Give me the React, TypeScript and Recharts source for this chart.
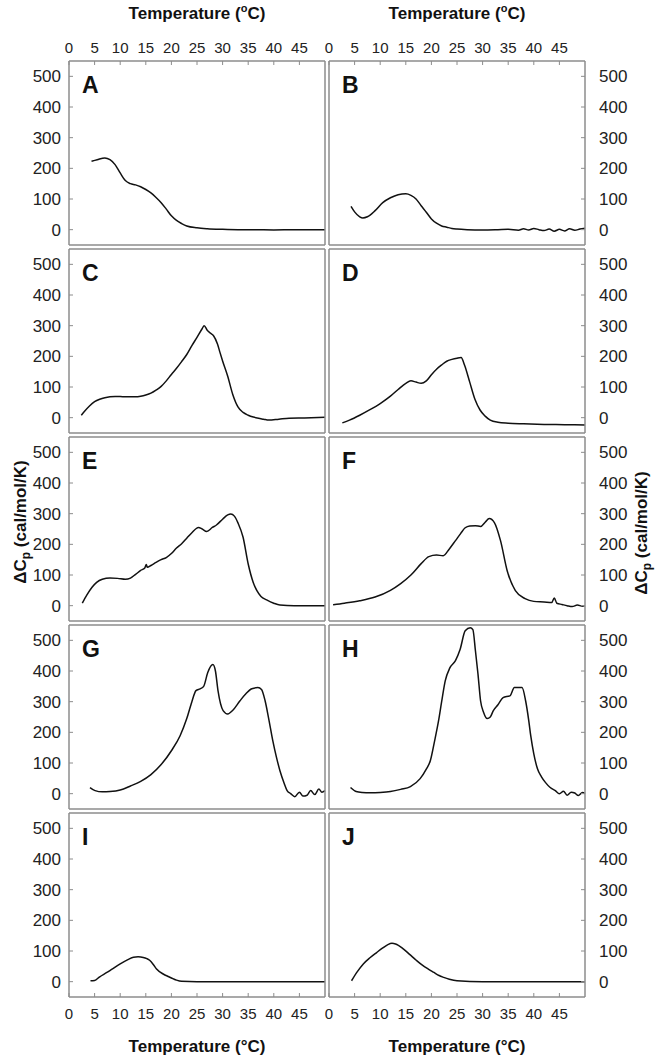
import { Line, LineChart, XAxis, YAxis } from "recharts";

const X_TICKS = [0, 5, 10, 15, 20, 25, 30, 35, 40, 45];
const Y_TICKS = [0, 100, 200, 300, 400, 500];
const X_DOMAIN = [0, 50];
const Y_DOMAIN = [-50, 550];

// A
const tA = [4.4, 5.5, 7, 8, 9, 10, 11, 12, 13, 14, 15, 16, 17, 18, 19, 20, 21, 22, 23, 25, 27, 30, 33, 36, 40, 44, 47, 50];
const cA = [223, 228, 234, 228, 212, 185, 160, 150, 146, 140, 131, 120, 105, 88, 67, 45, 30, 20, 12, 6, 3, 1, 0, 0, -1, 0, 0, 0];
// B
const tB = [4.3, 5, 6, 6.6, 7.5, 9, 10.5, 12, 13.5, 15, 16, 17, 18, 19, 20, 21, 22, 23, 24, 25, 27, 30, 33, 35, 37, 38, 39, 40, 41, 42, 43, 44, 45, 46, 47, 48, 49, 50];
const cB = [76, 58, 42, 38, 42, 62, 88, 104, 114, 117, 112, 100, 78, 57, 35, 21, 12, 8, 4, 2, 0, -1, 0, 1, -2, 3, -1, 4, 0, -3, 2, -5, 1, -4, 3, -2, 2, 5];
// C
const tC = [2.4, 3, 4, 5, 6, 7, 8, 9, 10, 11, 12, 13, 14, 15, 16, 17, 18, 19, 20, 21, 22, 23, 24, 25, 26, 26.4, 27, 27.6, 28.2, 29, 29.5, 30, 31, 32, 33, 34, 35, 36, 37, 38, 39, 41, 43, 46, 50];
const cC = [8, 20, 38, 52, 60, 65, 68, 69, 69, 68, 68, 68, 70, 74, 80, 90, 102, 120, 141, 161, 183, 206, 235, 262, 290, 300, 285, 276, 268, 240, 212, 185, 135, 75, 35, 17, 8, 2, -2, -5, -8, -5, -2, -1, 1];
// D
const tD = [2.6, 4, 6, 8, 10, 12, 13.5, 15, 16, 17, 18, 19, 20, 21, 22, 23, 24, 25, 25.8, 26.5, 27.5, 28.5, 29.5, 30.5, 31.5, 33, 35, 38, 42, 46, 50];
const cD = [-17, -8, 8, 26, 46, 70, 92, 112, 120, 116, 112, 120, 140, 158, 172, 184, 190, 194, 196, 170, 115, 60, 25, 5, -8, -15, -18, -20, -22, -23, -24];
// E
const tE = [2.6, 3.5, 4.5, 5.4, 6.5, 8, 9.5, 11, 12, 13, 14, 14.8, 15.1, 15.3, 16, 17, 18, 19, 20, 21, 22, 23, 24, 25.3, 26, 26.9, 28, 28.8, 30, 31, 31.6, 32.3, 33, 34, 35, 36, 36.7, 37.5, 38.6, 40, 41.2, 44, 47, 50];
const cE = [8, 35, 60, 76, 86, 90, 89, 86, 90, 102, 115, 123, 134, 125, 131, 141, 150, 157, 170, 188, 202, 220, 238, 255, 250, 242, 255, 263, 282, 296, 299, 292, 270, 223, 136, 75, 49, 30, 19, 8, 2, 0, 0, 0];
// F
const tF = [0.8, 3, 6, 9, 12, 14, 16, 18, 19.5, 21, 22.3, 23.5, 24.7, 25.7, 26.6, 27.5, 28.6, 29.6, 30.5, 31.3, 32.3, 33.5, 34.8, 36.4, 38.3, 40, 42, 43.5, 44, 44.5, 45.5, 46.5, 47.5, 48.5, 49.5, 50];
const cF = [3, 8, 16, 28, 50, 72, 100, 137, 160, 165, 163, 185, 212, 235, 254, 260, 261, 258, 272, 284, 271, 212, 114, 49, 23, 14, 12, 10, 25, 8, 4, 0, -3, 2, -2, 0];
// G
const tG = [4.1, 5.1, 6.5, 8, 10, 12, 14, 16, 18, 20, 21.7, 23, 24, 24.8, 25.6, 26.3, 27.1, 28.1, 28.6, 29.1, 30.1, 31, 32, 33.4, 34.5, 35.7, 36.9, 37.6, 38.3, 39, 39.8, 40.5, 41.2, 42, 42.6, 43.3, 44.1, 45, 45.7, 46.5, 47.2, 48, 48.8, 49.4, 50];
const cG = [20, 10, 6, 7, 12, 25, 40, 62, 95, 140, 189, 245, 300, 336, 342, 350, 395, 421, 400, 336, 271, 260, 272, 303, 325, 342, 346, 340, 303, 245, 173, 120, 75, 35, 10, 0, -10, 5, -8, -5, 10, -3, 15, 5, 10];
// H
const tH = [4.2, 5.3, 6.5, 8, 10, 12, 14, 15.9, 17.8, 19, 19.8, 20.6, 21.4, 22, 22.7, 23.6, 24.7, 25.6, 26.6, 27.6, 28.1, 28.6, 29.1, 29.6, 30.2, 30.9, 31.5, 32.1, 33, 34, 35.4, 36.2, 37, 37.7, 38.4, 39, 39.4, 40, 40.7, 41.5, 42.3, 43.2, 44.2, 45, 45.8, 46.5, 47.3, 48, 48.7, 49.5, 50];
const cH = [20, 7, 4, 3, 4, 7, 14, 23, 49, 80, 108, 170, 238, 300, 368, 410, 434, 470, 531, 541, 535, 466, 390, 303, 265, 245, 250, 271, 290, 313, 320, 346, 346, 346, 303, 240, 189, 130, 82, 55, 36, 20, 10, 0, 8, -5, 5, 2, -6, 4, 0];
// I
const tI = [4.2, 5, 6, 7.4, 8.5, 10, 11.5, 12.6, 13.5, 14.5, 15.2, 15.8, 16.5, 17.1, 18.4, 19.5, 20.4, 21, 22, 25, 30, 35, 40, 45, 50];
const cI = [3, 4, 16, 30, 42, 58, 72, 80, 81, 79, 75, 69, 55, 41, 25, 16, 9, 5, 1, 0, 0, 0, 0, 0, 0];
// J
const tJ = [4.4, 5.5, 6.7, 8, 9.3, 10.5, 11.5, 12.3, 13, 14.5, 15.8, 17.1, 18.3, 19.4, 20.5, 21.5, 22.4, 23.5, 25, 30, 35, 40, 45, 50];
const cJ = [3, 32, 58, 78, 95, 110, 121, 125, 123, 107, 88, 69, 53, 41, 30, 20, 14, 8, 3, 0, 0, 0, 0, 0];

const PANELS = [
  { letter: "A", t: tA, c: cA },
  { letter: "B", t: tB, c: cB },
  { letter: "C", t: tC, c: cC },
  { letter: "D", t: tD, c: cD },
  { letter: "E", t: tE, c: cE },
  { letter: "F", t: tF, c: cF },
  { letter: "G", t: tG, c: cG },
  { letter: "H", t: tH, c: cH },
  { letter: "I", t: tI, c: cI },
  { letter: "J", t: tJ, c: cJ },
];

const FONT = "'Liberation Sans', Arial, Helvetica, sans-serif";
const FRAME = "#8c8c8c";
const PLOT_W = 256;
const PLOT_H = 184;
const COL_LEFT = [69, 329];
const ROW_TOP = 61;
const ROW_STEP = 188;

function Panel({ letter, t, c, index }: { letter: string; t: number[]; c: number[]; index: number }) {
  const col = index % 2;
  const row = Math.floor(index / 2);
  const plotLeft = COL_LEFT[col];
  const plotTop = ROW_TOP + row * ROW_STEP;
  const topH = row === 0 ? 30 : 4;
  const bottomH = row === 4 ? 30 : 4;
  const leftW = col === 0 ? 60 : 10;
  const rightW = col === 0 ? 4 : 50;
  const data = t.map((x, i) => ({ t: x, v: c[i] }));
  const axisLine = { stroke: FRAME, strokeWidth: 1.5 };
  const tickLine = { stroke: FRAME, strokeWidth: 1 };
  const xTick = { fill: "#222", fontSize: 15, fontFamily: FONT };
  const yTick = { fill: "#222", fontSize: 17, fontFamily: FONT };
  // the curve is bound to the labelled y axis so its ticks get drawn
  const lineY = col === 0 ? "left" : "right";

  return (
    <div style={{ position: "absolute", left: plotLeft - leftW, top: plotTop - topH }}>
      <LineChart
        width={leftW + PLOT_W + rightW}
        height={topH + PLOT_H + bottomH}
        data={data}
        margin={{ top: 0, right: 0, bottom: 0, left: 0 }}
      >
        <XAxis
          xAxisId="top"
          orientation="top"
          type="number"
          dataKey="t"
          domain={X_DOMAIN}
          ticks={X_TICKS}
          interval={0}
          height={topH}
          axisLine={axisLine}
          tickLine={tickLine}
          tickSize={-4}
          tickMargin={12}
          tick={row === 0 ? xTick : false}
        />
        <XAxis
          xAxisId="bottom"
          orientation="bottom"
          type="number"
          dataKey="t"
          domain={X_DOMAIN}
          ticks={X_TICKS}
          interval={0}
          height={bottomH}
          axisLine={axisLine}
          tickLine={tickLine}
          tickSize={-4}
          tickMargin={15}
          tick={row === 4 ? xTick : false}
        />
        <YAxis
          yAxisId="left"
          orientation="left"
          type="number"
          dataKey="v"
          domain={Y_DOMAIN}
          allowDataOverflow
          ticks={Y_TICKS}
          interval={0}
          width={leftW}
          axisLine={axisLine}
          tickLine={col === 0 ? tickLine : false}
          tickSize={-4}
          tickMargin={12}
          tick={col === 0 ? yTick : false}
        />
        <YAxis
          yAxisId="right"
          orientation="right"
          type="number"
          dataKey="v"
          domain={Y_DOMAIN}
          allowDataOverflow
          ticks={Y_TICKS}
          interval={0}
          width={rightW}
          axisLine={axisLine}
          tickLine={col === 1 ? tickLine : false}
          tickSize={-4}
          tickMargin={18}
          tick={col === 1 ? yTick : false}
        />
        <Line
          xAxisId="bottom"
          yAxisId={lineY}
          type="monotone"
          dataKey="v"
          stroke="#111"
          strokeWidth={1.5}
          dot={false}
          isAnimationActive={false}
        />
      </LineChart>
      <div
        style={{
          position: "absolute",
          left: leftW + 13,
          top: topH + 13,
          fontFamily: FONT,
          fontWeight: 700,
          fontSize: 23,
          lineHeight: 1,
          color: "#111",
        }}
      >
        {letter}
      </div>
    </div>
  );
}

const titleStyle = {
  position: "absolute" as const,
  width: PLOT_W,
  textAlign: "center" as const,
  fontFamily: FONT,
  fontWeight: 700,
  fontSize: 17,
  lineHeight: 1,
  color: "#111",
};

const yLabelStyle = {
  position: "absolute" as const,
  transform: "translate(-50%, -50%) rotate(-90deg)",
  whiteSpace: "nowrap" as const,
  fontFamily: FONT,
  fontWeight: 700,
  fontSize: 17,
  lineHeight: 1,
  color: "#111",
};

function YLabel() {
  return (
    <>
      {"\u0394C"}
      <sub style={{ fontSize: 12 }}>p</sub>
      {" (cal/mol/K)"}
    </>
  );
}

export default function App() {
  return (
    <div style={{ position: "absolute", left: 0, top: 0, width: 660, height: 1058, background: "#fff" }}>
      {COL_LEFT.map((x) => (
        <div key={"tt" + x} style={{ ...titleStyle, left: x, top: 3 }}>
          Temperature (<sup style={{ fontSize: 11 }}>o</sup>C)
        </div>
      ))}
      {COL_LEFT.map((x) => (
        <div key={"bt" + x} style={{ ...titleStyle, left: x, top: 1038 }}>
          Temperature (°C)
        </div>
      ))}
      <div style={{ ...yLabelStyle, left: 22, top: 522 }}>
        <YLabel />
      </div>
      <div style={{ ...yLabelStyle, left: 643, top: 533 }}>
        <YLabel />
      </div>
      {PANELS.map((p, i) => (
        <Panel key={p.letter} letter={p.letter} t={p.t} c={p.c} index={i} />
      ))}
    </div>
  );
}
